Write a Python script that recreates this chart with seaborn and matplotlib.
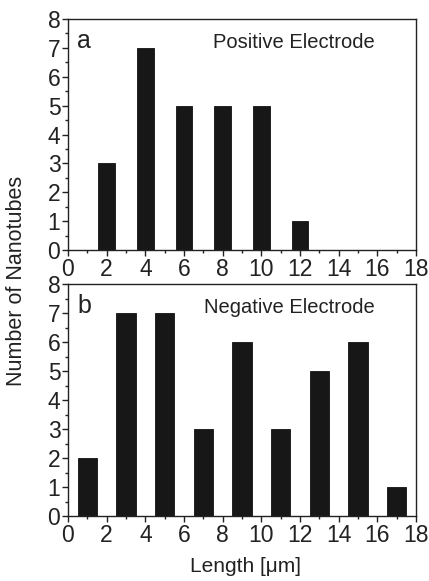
import seaborn as sns
import pandas as pd
import matplotlib.pyplot as plt
from matplotlib.ticker import MultipleLocator

# panel a: positive electrode
pos_length = [2, 4, 6, 8, 10, 12]
pos_count = [3, 7, 5, 5, 5, 1]
# panel b: negative electrode
neg_length = [1, 3, 5, 7, 9, 11, 13, 15, 17]
neg_count = [2, 7, 7, 3, 6, 3, 5, 6, 1]

sns.set_style("ticks")
plt.rcParams["font.family"] = ["Liberation Sans", "DejaVu Sans"]
plt.rcParams["text.color"] = "#222222"

W, H = 429, 581
fig = plt.figure(figsize=(W / 100, H / 100), dpi=100)
ax1 = fig.add_axes([68 / W, 1 - 250 / H, 348 / W, 231 / H])
ax2 = fig.add_axes([68 / W, 1 - 516 / H, 348 / W, 232 / H])

pos_df = pd.DataFrame({"length": pos_length, "count": pos_count})
neg_df = pd.DataFrame({"length": neg_length, "count": neg_count})

sns.barplot(data=pos_df, x="length", y="count", native_scale=True, width=0.43,
            color="#171717", saturation=1, edgecolor="#111111", linewidth=0.6, ax=ax1)
sns.barplot(data=neg_df, x="length", y="count", native_scale=True, width=0.5,
            color="#171717", saturation=1, edgecolor="#111111", linewidth=0.6, ax=ax2)

for ax in (ax1, ax2):
    ax.set_xlim(0, 18)
    ax.set_ylim(0, 8)
    ax.xaxis.set_major_locator(MultipleLocator(2))
    ax.xaxis.set_minor_locator(MultipleLocator(1))
    ax.yaxis.set_major_locator(MultipleLocator(1))
    ax.yaxis.set_minor_locator(MultipleLocator(0.5))
    ax.tick_params(which="major", direction="out", length=4.5, width=1,
                   labelsize=16.5, colors="#222222", pad=1)
    ax.tick_params(which="minor", direction="out", length=2.5, width=1, colors="#222222")
    ax.tick_params(top=False, right=False, which="both")
    for s in ax.spines.values():
        s.set_visible(True)
        s.set_linewidth(1)
        s.set_color("#222222")
    ax.set_xlabel("")
    ax.set_ylabel("")

fig.text(77 / W, 1 - 48 / H, "a", fontsize=18, va="baseline")
fig.text(213 / W, 1 - 48 / H, "Positive Electrode", fontsize=14.5, va="baseline")
fig.text(77 / W, 1 - 313 / H, "b", fontsize=18, va="baseline")
fig.text(204 / W, 1 - 313 / H, "Negative Electrode", fontsize=14.5, va="baseline")

fig.text(245 / W, 1 - 572 / H, "Length [μm]", fontsize=15, color="#222222",
         ha="center", va="baseline")
fig.text(17 / W, 1 - 281 / H, "Number of Nanotubes", rotation=90, fontsize=15.5,
         color="#222222", ha="center", va="center")

fig.savefig("out.png", dpi=100)
